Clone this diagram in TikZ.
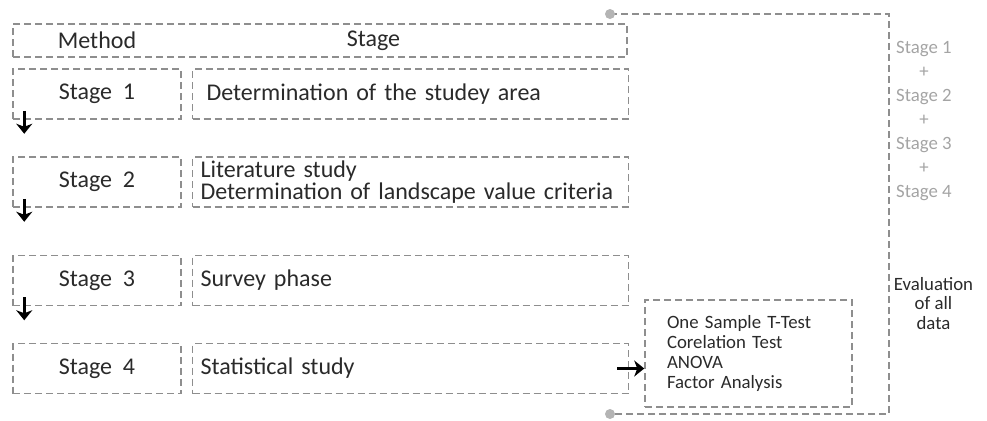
\documentclass[tikz,border=0pt]{standalone}
\usepackage{fontspec}
\setmainfont{Carlito}
\usepackage{xcolor}
\usetikzlibrary{arrows.meta, positioning}

\definecolor{dashgray}{HTML}{8E8E8E}
\definecolor{inkgray}{HTML}{2A2A2A}
\definecolor{sidegray}{HTML}{A4A4A4}
\definecolor{dotgray}{HTML}{B4B4B4}

\begin{document}
\begin{tikzpicture}[
  x=0.5pt, y=-0.5pt,
  node distance=5pt and 5pt,
  dbox/.style={rectangle, draw=dashgray, dash pattern=on 3.5pt off 2pt,
              line width=0.75pt, minimum height=25pt, inner sep=0pt,
              font=\fontsize{12}{11}\selectfont, text=inkgray},
  headbox/.style={dbox, minimum width=307pt, minimum height=16.5pt},
  methodbox/.style={dbox, minimum width=84pt, align=center},
  stagebox/.style={dbox, text width=210pt, inner xsep=4pt, align=left},
  testbox/.style={dbox, minimum height=53.5pt, text width=81.5pt, inner xsep=11pt,
              align=left, font=\fontsize{9.4}{9.85}\selectfont},
  headtext/.style={font=\fontsize{12}{11}\selectfont, text=inkgray, inner sep=0pt},
  sidetext/.style={align=center, inner sep=0pt, text=inkgray},
  frame/.style={draw=dashgray, dash pattern=on 3.5pt off 2pt, line width=0.75pt},
  arr/.style={-{Stealth[length=5pt, width=8pt, inset=1.5pt]}, line width=1.4pt, black}
]
\useasboundingbox (0,0) rectangle (987,420);

% header
\node[headbox] (head) at (320,40.5) {};

% method / stage rows
\node[methodbox] (m1) at (97,94) {Stage\ \ 1};
\node[stagebox, right=of m1] (s1) {\hspace{3pt}Determination of the studey area};
\node[methodbox] (m2) at (97,182) {Stage\ \ 2};
\node[stagebox, right=of m2] (s2) {Literature study\\Determination of landscape value criteria};
\node[methodbox] (m3) at (97,280.5) {Stage\ \ 3};
\node[stagebox, right=of m3] (s3) {Survey phase};
\node[methodbox] (m4) at (97,368.5) {Stage\ \ 4};
\node[stagebox, right=of m4] (s4) {Statistical study};

\node[headtext] (hmethod) at (m1 |- head) {Method};
\node[headtext] (hstage) at ([xshift=-18.5pt]s1.center |- head.center) {Stage};

% statistics
\node[testbox] (tests) at (748.5,353.5) {%
  One Sample T-Test\\Corelation Test\\ANOVA\\Factor Analysis};

% evaluation frame
\coordinate (ftop) at (610,14);
\coordinate (fbot) at (610,414);
\draw[frame] (ftop) -- ++(279,0) |- (fbot);
\fill[dotgray] (ftop) circle (2.5pt) (fbot) circle (2.5pt);

\node[sidetext, text=sidegray, font=\fontsize{9.4}{12}\selectfont] (sum) at (924,121)
  {Stage 1\\+\\Stage 2\\+\\Stage 3\\+\\Stage 4};
\node[sidetext, font=\fontsize{9.4}{9.75}\selectfont] (evalnote) at (933.5,303.5)
  {Evaluation\\of all\\data};

% arrows
\foreach \m in {m1,m2,m3}
  \draw[arr] ([xshift=6pt,yshift=4.5pt]\m.south west) -- ++(0,23);
\draw[arr] ([xshift=-6pt]s4.east) -- (s4.east -| tests.west);
\end{tikzpicture}
\end{document}
